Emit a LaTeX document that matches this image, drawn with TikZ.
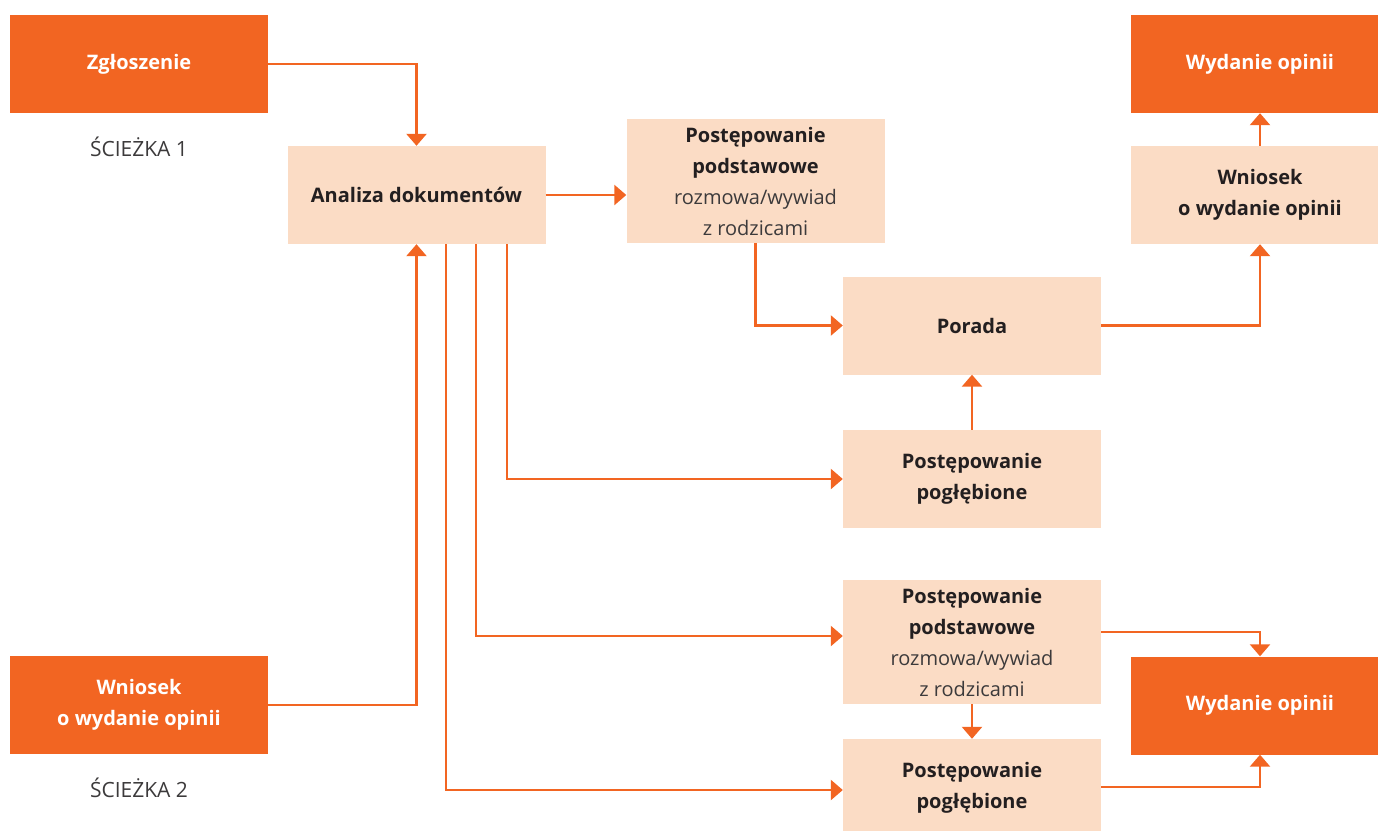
\documentclass[tikz,border=0pt]{standalone}
\usepackage{fontspec}
\setmainfont{Open Sans}
\usetikzlibrary{arrows.meta,calc}
\definecolor{orng}{HTML}{F26522}
\definecolor{peach}{HTML}{FBDCC5}
\definecolor{txt}{HTML}{231F20}
\definecolor{ltxt}{HTML}{3C3A3B}
\tikzset{
  darkbox/.style={fill=orng, text=white, minimum width=258pt, minimum height=98pt, align=center, inner sep=0pt, font=\fontsize{20}{31}\selectfont\bfseries},
  lightbox/.style={fill=peach, text=txt, minimum width=258pt, minimum height=98pt, align=center, inner sep=0pt, font=\fontsize{20}{31}\selectfont\bfseries},
  tallbox/.style={lightbox, minimum height=124pt},
  pathlbl/.style={text=ltxt, font=\fontsize{21}{24}\selectfont},
  arr/.style={draw=orng, line width=2.5pt, -{Triangle[length=12pt,width=20pt]}},
}
\newcommand{\lt}[1]{{\mdseries\color{ltxt}#1}}
\begin{document}
\begin{tikzpicture}[x=1pt,y=-1pt]
\useasboundingbox (0,0) rectangle (1378,830);
\node[darkbox] (z) at (139,64) {Zgłoszenie};
\node[pathlbl] (s1) at (139,147) {ŚCIEŻKA 1};
\node[lightbox] (an) at (416.5,195) {Analiza dokumentów};
\node[tallbox] (pp1) at (755.5,181) {Postępowanie\\podstawowe\\\lt{rozmowa/wywiad}\\\lt{z rodzicami}};
\node[lightbox] (por) at (972,325.5) {Porada};
\node[lightbox] (pg1) at (972,479) {Postępowanie\\pogłębione};
\node[lightbox] (wn) at (1260,195) {Wniosek\\o wydanie opinii};
\node[darkbox] (wy1) at (1260,64) {Wydanie opinii};
\node[tallbox] (pp2) at (972,642) {Postępowanie\\podstawowe\\\lt{rozmowa/wywiad}\\\lt{z rodzicami}};
\node[lightbox] (pg2) at (972,788) {Postępowanie\\pogłębione};
\node[darkbox] (wy2) at (1260,705.5) {Wydanie opinii};
\node[darkbox] (w2) at (139,705) {Wniosek\\o wydanie opinii};
\node[pathlbl] (s2) at (139,788) {ŚCIEŻKA 2};

\draw[arr] (z.east) -| (an.north);
\draw[arr] (an.east) -- (an.east -| pp1.west);
\draw[arr] (pp1.south) |- (por.west);
\draw[arr] (por.east) -| (wn.south);
\draw[arr] (wn.north) -- (wy1.south);
\draw[arr] (pg1.north) -- (por.south);
\draw[arr] ($(an.south)+(90.5,0)$) |- (pg1.west);
\draw[arr] ($(an.south)+(59.5,0)$) |- ([yshift=6pt]pp2.west);
\draw[arr] ($(an.south)+(29.5,0)$) |- ([yshift=-2pt]pg2.west);
\draw[arr] (w2.east) -| (an.south);
\draw[arr] (pp2.south) -- (pg2.north);
\draw[arr] ([yshift=10pt]pp2.east) -| (wy2.north);
\draw[arr] ([yshift=1pt]pg2.east) -| (wy2.south);
\end{tikzpicture}
\end{document}
